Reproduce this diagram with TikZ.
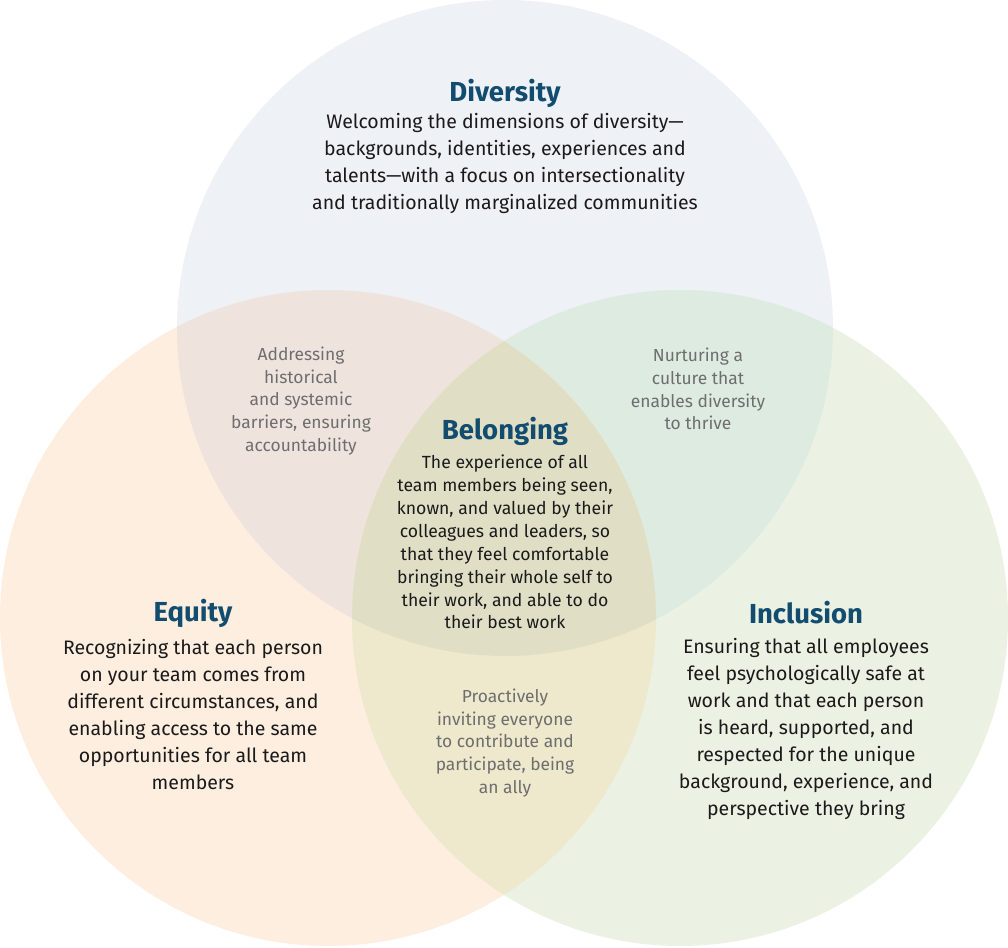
\documentclass[tikz,border=0pt]{standalone}
\usepackage{fontspec}
\setmainfont{Fira Sans}
\definecolor{cD}{HTML}{EEF1F6}
\definecolor{cE}{HTML}{FDEEDF}
\definecolor{cI}{HTML}{EBF2E3}
\definecolor{cDE}{HTML}{EFE4DD}
\definecolor{cDI}{HTML}{DEEBE0}
\definecolor{cEI}{HTML}{EEE8CC}
\definecolor{cC}{HTML}{E0DFC6}
\definecolor{ttl}{HTML}{124C6E}
\definecolor{txt}{HTML}{1A1A1A}
\definecolor{gtx}{HTML}{6E6E6E}
\tikzset{
  title/.style={font=\fontsize{27.5}{30}\selectfont\bfseries, text=ttl, inner sep=0pt},
  body/.style={font=\fontsize{19.5}{27}\selectfont, text=txt, align=center, inner sep=0pt},
  small/.style={font=\fontsize{17.6}{22.9}\selectfont, text=txt, align=center, inner sep=0pt},
  gray/.style={font=\fontsize{17.4}{22.8}\selectfont, text=gtx, align=center, inner sep=0pt}
}
\begin{document}
\begin{tikzpicture}[x=1pt,y=-1pt]
\useasboundingbox (0,0) rectangle (1008,947);
\def\Dc{(505,328) circle[radius=328pt]}
\def\Ec{(328,618) circle[radius=328pt]}
\def\Ic{(680,618) circle[radius=328pt]}
\fill[cD] \Dc;
\fill[cE] \Ec;
\fill[cI] \Ic;
\begin{scope}
  \clip \Dc;
  \fill[cDE] \Ec;
  \fill[cDI] \Ic;
\end{scope}
\begin{scope}
  \clip \Ec;
  \fill[cEI] \Ic;
\end{scope}
\begin{scope}
  \clip \Dc;
  \clip \Ec;
  \fill[cC] \Ic;
\end{scope}

\node[title] (dt) at (505,93.5) {Diversity};
\node[body] (db) at (505,163) {Welcoming the dimensions of diversity—\\backgrounds, identities, experiences and\\talents—with a focus on intersectionality\\and traditionally marginalized communities};

\node[title] (bt) at (505,431.5) {Belonging};
\node[small] (bb) at (505,542) {The experience of all\\team members being seen,\\known, and valued by their\\colleagues and leaders, so\\that they feel comfortable\\bringing their whole self to\\their work, and able to do\\their best work};

\node[title] (et) at (193,613) {Equity};
\node[body] (eb) at (193,714.5) {Recognizing that each person\\on your team comes from\\different circumstances, and\\enabling access to the same\\opportunities for all team\\members};

\node[title] (it) at (806,613) {Inclusion};
\node[body] (ib) at (806,728.5) {Ensuring that all employees\\feel psychologically safe at\\work and that each person\\is heard, supported, and\\respected for the unique\\background, experience, and\\perspective they bring};

\node[gray] (de) at (301,401) {Addressing\\historical\\and systemic\\barriers, ensuring\\accountability};
\node[gray] (di) at (698,389) {Nurturing a\\culture that\\enables diversity\\to thrive};
\node[gray] (ei) at (505,743) {Proactively\\inviting everyone\\to contribute and\\participate, being\\an ally};
\end{tikzpicture}
\end{document}
